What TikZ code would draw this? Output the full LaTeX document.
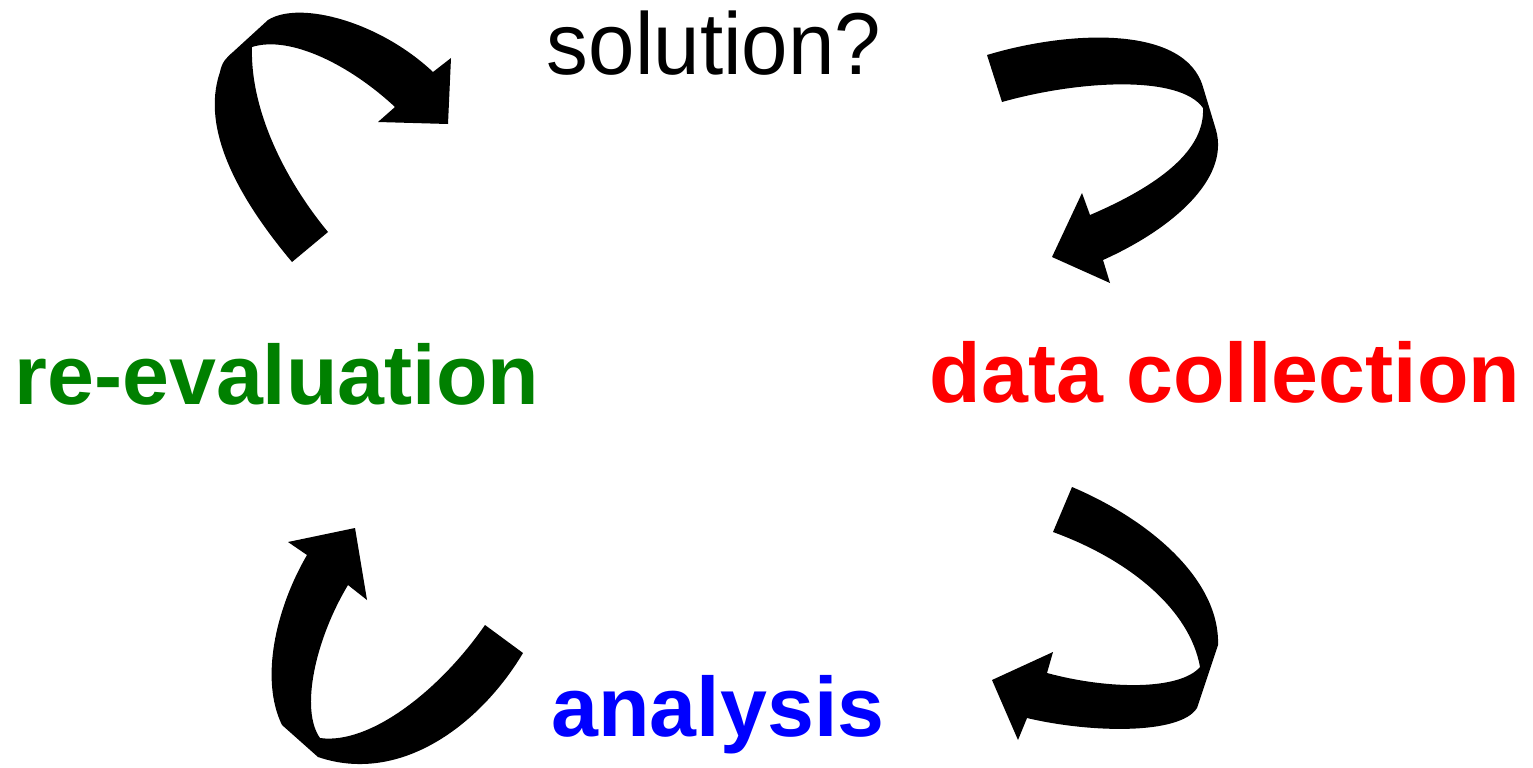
\documentclass[tikz,border=0pt]{standalone}
\usepackage{fontspec}
\setmainfont{Liberation Sans}
\definecolor{evalgreen}{RGB}{0,128,0}
\definecolor{collectred}{RGB}{255,0,0}
\definecolor{analysisblue}{RGB}{0,0,255}
\begin{document}
\begin{tikzpicture}[x=0.02cm, y=-0.02cm,
  ribbon/.style={fill=black, draw=none},
  word/.style={anchor=base, inner sep=0pt, font=\fontsize{48}{50}\selectfont}]
  \useasboundingbox (0,0) rectangle (1533,767);
  \node[word, font=\fontsize{50}{52}\selectfont] (solution) at (714,74) {\scalebox{0.95}[1]{solution?}};
  \node[word, text=collectred, font=\fontsize{48}{50}\selectfont\bfseries] (collect) at (1225,402) {data collection};
  \node[word, text=analysisblue, font=\fontsize{48}{50}\selectfont\bfseries] (analysis) at (718,736) {analysis};
  \node[word, text=evalgreen, font=\fontsize{48}{50}\selectfont\bfseries] (reeval) at (277,404) {re-evaluation};
  \fill[ribbon] (292,262) .. controls (240,200) and (200,130) .. (220,72)
    .. controls (222,62) and (226,58) .. (233,52) -- (268,20)
    .. controls (300,0) and (380,22) .. (433,72)
    -- (451,58) -- (448,124) -- (378,122) -- (395,107)
    .. controls (350,65) and (290,35) .. (252,47)
    .. controls (250,110) and (285,180) .. (328,232) -- cycle;
  \fill[ribbon] (987,55) .. controls (1070,30) and (1185,25) .. (1203,87)
    -- (1216,130) .. controls (1230,180) and (1170,230) .. (1103,260)
    -- (1110,283) -- (1052,257) -- (1082,193) -- (1090,215)
    .. controls (1160,185) and (1205,150) .. (1203,108)
    .. controls (1180,75) and (1080,80) .. (1002,102) -- cycle;
  \fill[ribbon] (1072,487) .. controls (1150,520) and (1220,580) .. (1218,645)
    -- (1197,708) .. controls (1180,735) and (1090,733) .. (1027,718)
    -- (1018,740) -- (992,680) -- (1053,652) -- (1047,673)
    .. controls (1110,690) and (1180,690) .. (1200,667)
    .. controls (1190,610) and (1130,560) .. (1053,532) -- cycle;
  \fill[ribbon] (523,653) .. controls (480,725) and (400,785) .. (318,757)
    -- (282,725) .. controls (260,680) and (275,610) .. (307,555)
    -- (288,542) -- (355,528) -- (367,600) -- (348,585)
    .. controls (315,640) and (300,710) .. (320,738)
    .. controls (370,745) and (440,690) .. (485,625) -- cycle;
\end{tikzpicture}
\end{document}
